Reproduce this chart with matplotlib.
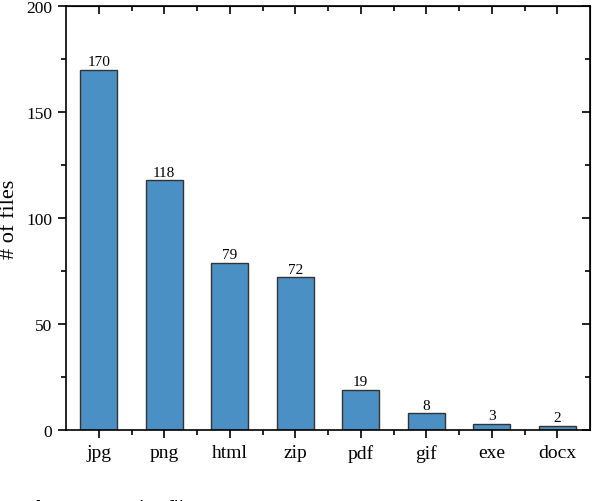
import matplotlib
matplotlib.use("Agg")
import matplotlib.pyplot as plt
from matplotlib.ticker import MultipleLocator, FixedLocator

# file type counts
file_types = ["jpg", "png", "html", "zip", "pdf", "gif", "exe", "docx"]
counts = [170, 118, 79, 72, 19, 8, 3, 2]

plt.rcParams['font.family'] = ['Liberation Serif', 'DejaVu Serif']

fig = plt.figure(figsize=(5.94, 5.02), dpi=100)
ax = fig.add_axes([66/594, 71/502, 524/594, 424/502])

pos = list(range(len(file_types)))
bars = ax.bar(pos, counts, width=0.56, color="#4a90c4",
              edgecolor="#333333", linewidth=1.0)
for x, c in zip(pos, counts):
    ax.text(x, c + 0.6, str(c), ha="center", va="bottom", fontsize=11)

ax.set_xlim(-0.5, len(file_types) - 0.5)
ax.set_ylim(0, 200)
ax.set_xticks(pos)
ax.set_xticklabels(file_types, fontsize=14)
ax.xaxis.set_minor_locator(FixedLocator([p + 0.5 for p in pos[:-1]]))
ax.yaxis.set_major_locator(MultipleLocator(50))
ax.yaxis.set_minor_locator(MultipleLocator(25))
ax.tick_params(axis="y", labelsize=12.5)
ax.set_ylabel("# of files", fontsize=16, labelpad=5)

for s in ax.spines.values():
    s.set_linewidth(1.2)

ax.tick_params(which="major", direction="out", length=6, width=1.2,
               pad=4, top=False, right=False)
ax.tick_params(which="minor", direction="out", length=3.5, width=1.2,
               top=False, right=False)

# inward ticks mirrored on top and right
sec_x = ax.secondary_xaxis("top")
sec_x.set_xticks(pos)
sec_x.set_xticklabels([])
sec_x.xaxis.set_minor_locator(FixedLocator([p + 0.5 for p in pos[:-1]]))
sec_x.tick_params(which="major", direction="in", length=6, width=1.2)
sec_x.tick_params(which="minor", direction="in", length=3.5, width=1.2)

sec_y = ax.secondary_yaxis("right")
sec_y.yaxis.set_major_locator(MultipleLocator(50))
sec_y.yaxis.set_minor_locator(MultipleLocator(25))
sec_y.set_yticklabels([])
sec_y.tick_params(which="major", direction="in", length=6, width=1.2)
sec_y.tick_params(which="minor", direction="in", length=3.5, width=1.2)

# caption cut off at the bottom of the image
fig.text(23/594, 1.5/502, "Figure 3:", family="DejaVu Sans", fontweight="bold",
         fontsize=13, va="top", ha="left")
fig.text(128/594, 1.5/502, "The file", family="DejaVu Sans",
         fontsize=13, va="top", ha="left")

fig.savefig("out.png", dpi=100)
